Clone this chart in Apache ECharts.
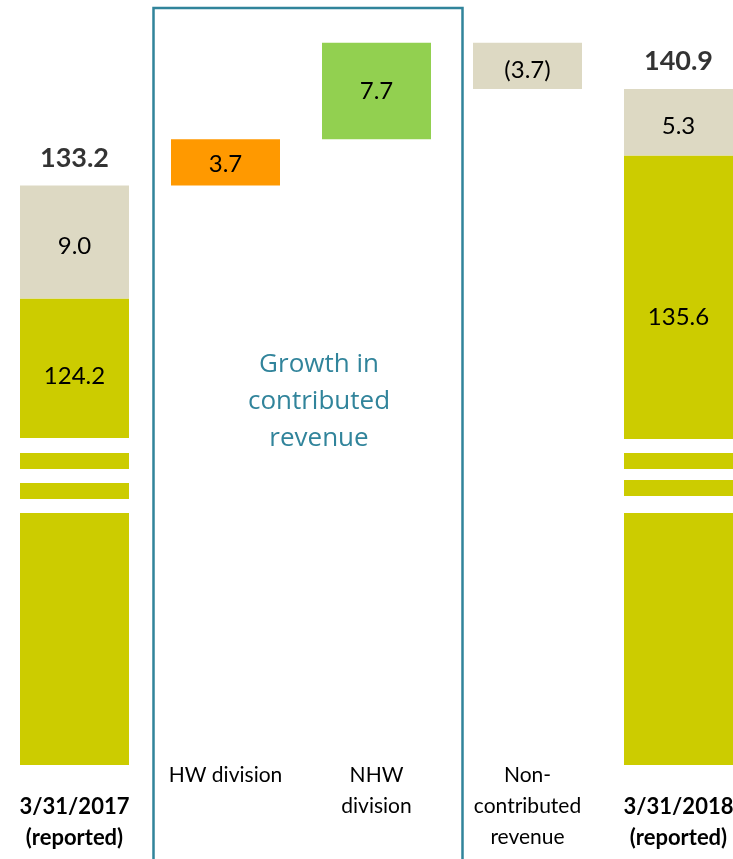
<!DOCTYPE html>
<html>
<head>
<meta charset="utf-8">
<script src="https://cdn.jsdelivr.net/npm/echarts@6/dist/echarts.min.js"></script>
<style>
html, body { margin: 0; padding: 0; background: #fff; }
#chart { width: 733px; height: 859px; }
</style>
</head>
<body>
<div id="chart"></div>
<script>
// revenue bridge, $M
var categories = ['3/31/2017\n(reported)', 'HW division', 'NHW\ndivision', 'Non-\ncontributed\nrevenue', '3/31/2018\n(reported)'];
var contributed = [124.2, null, null, null, 135.6];
var hwGrowth = [null, 3.7, null, null, null];
var nhwGrowth = [null, null, 7.7, null, null];
var nonContributed = [9.0, null, null, -3.7, 5.3];

// white stripes that mark the broken base bars (axis units)
var BREAKS = [
    [0, 111.88, 113.07], [0, 109.49, 110.60], [0, 107.09, 108.21],
    [4, 111.88, 112.99], [4, 109.73, 110.60], [4, 107.09, 108.45]
];
var OLIVE = '#CCCC00', ORANGE = '#FF9900', LIME = '#92D050', STONE = '#DDD9C3', TEAL = '#31849B';
var FONT = 'Lato';

// floating offsets + totals for the bridge
var helper = [], totals = [];
var running = contributed[0] + nonContributed[0];
for (var i = 0; i < categories.length; i++) {
    if (i === 0 || i === categories.length - 1) {
        helper.push(0);
        totals.push([i, +(contributed[i] + nonContributed[i]).toFixed(1)]);
    } else {
        var d = hwGrowth[i] || nhwGrowth[i] || nonContributed[i] || 0;
        helper.push(+(d < 0 ? running + d : running).toFixed(1));
        running += d;
    }
}

function dash(arr) { return arr.map(function(v) { return v === null ? '-' : Math.abs(v); }); }

var valueLabel = { show: true, color: '#000', fontFamily: FONT, fontSize: 24 };

var chart = echarts.init(document.getElementById('chart'));
var option = {
    animation: false,
    grid: { left: -1, width: 755, top: 0, height: 765, outerBoundsMode: 'none', containLabel: false },
    xAxis: {
        type: 'category',
        data: categories,
        axisLine: { show: false }, axisTick: { show: false }, splitLine: { show: false },
        axisLabel: {
            interval: 0, margin: -5, color: '#000', fontFamily: FONT, fontSize: 21, lineHeight: 31,
            formatter: function(v, idx) {
                if (idx === 0 || idx === categories.length - 1) {
                    return '\n' + v.split('\n').map(function(s) { return '{b|' + s + '}'; }).join('\n');
                }
                return v;
            },
            rich: { b: { fontWeight: 'bold', fontFamily: FONT, fontSize: 22, lineHeight: 31, color: '#000' } }
        }
    },
    yAxis: { type: 'value', min: 87, max: 148, show: false },
    series: [
        { name: 'helper', type: 'bar', stack: 'w', barWidth: 109, silent: true,
          itemStyle: { color: 'transparent' }, data: helper },
        { name: 'Contributed', type: 'bar', stack: 'w', barWidth: 109, itemStyle: { color: OLIVE },
          data: contributed.map(function(v, i) {
              if (v === null) return '-';
              return { value: v, label: Object.assign({}, valueLabel, { position: 'insideTop', distance: i === 0 ? 66 : 150 }) };
          }),
          label: { show: false, formatter: function(p) { return p.value.toFixed(1); } } },
        { name: 'HW division', type: 'bar', stack: 'w', barWidth: 109, itemStyle: { color: ORANGE },
          data: dash(hwGrowth),
          label: Object.assign({}, valueLabel, { position: 'inside', offset: [0, 2], formatter: function(p) { return p.value.toFixed(1); } }) },
        { name: 'NHW division', type: 'bar', stack: 'w', barWidth: 109, itemStyle: { color: LIME },
          data: dash(nhwGrowth),
          label: Object.assign({}, valueLabel, { position: 'inside', formatter: function(p) { return p.value.toFixed(1); } }) },
        { name: 'Non-contributed', type: 'bar', stack: 'w', barWidth: 109, itemStyle: { color: STONE },
          data: dash(nonContributed),
          label: Object.assign({}, valueLabel, { position: 'inside', offset: [0, 4], formatter: function(p) {
              var s = p.value.toFixed(1);
              return nonContributed[p.dataIndex] < 0 ? '(' + s + ')' : s;
          } }) },
        { name: 'breaks', type: 'custom', silent: true, z: 5, data: BREAKS,
          encode: { x: 0, y: [1, 2] },
          renderItem: function(params, api) {
              var a = api.coord([api.value(0), api.value(1)]);
              var b = api.coord([api.value(0), api.value(2)]);
              return { type: 'rect', shape: { x: a[0] - 57, y: b[1], width: 114, height: a[1] - b[1] }, style: { fill: '#fff' } };
          } },
        { name: 'Total', type: 'scatter', symbolSize: 0, data: totals,
          label: { show: true, position: 'top', distance: 14, color: '#000', fontFamily: FONT, fontWeight: 'bold', fontSize: 27,
                   formatter: function(p) { return p.value[1].toFixed(1); } } }
    ]
};
chart.setOption(option);

// bracket around the two contributed-growth columns
var pHw = chart.convertToPixel({ gridIndex: 0 }, [1, 0]);
var pNhw = chart.convertToPixel({ gridIndex: 0 }, [2, 0]);
var boxLeft = pHw[0] - 72, boxRight = pNhw[0] + 86;
chart.setOption({
    graphic: [
        { type: 'rect', shape: { x: boxLeft, y: 8, width: boxRight - boxLeft, height: 900 },
          style: { fill: 'none', stroke: TEAL, lineWidth: 2.5 }, z: 10 },
        { type: 'text', x: (pHw[0] + pNhw[0]) / 2 + 18, y: 402, z: 10,
          style: { text: 'Growth in\ncontributed\nrevenue', fill: TEAL, font: '26px "Open Sans"', lineHeight: 37,
                   align: 'center', verticalAlign: 'middle' } }
    ]
});
</script>
</body>
</html>
